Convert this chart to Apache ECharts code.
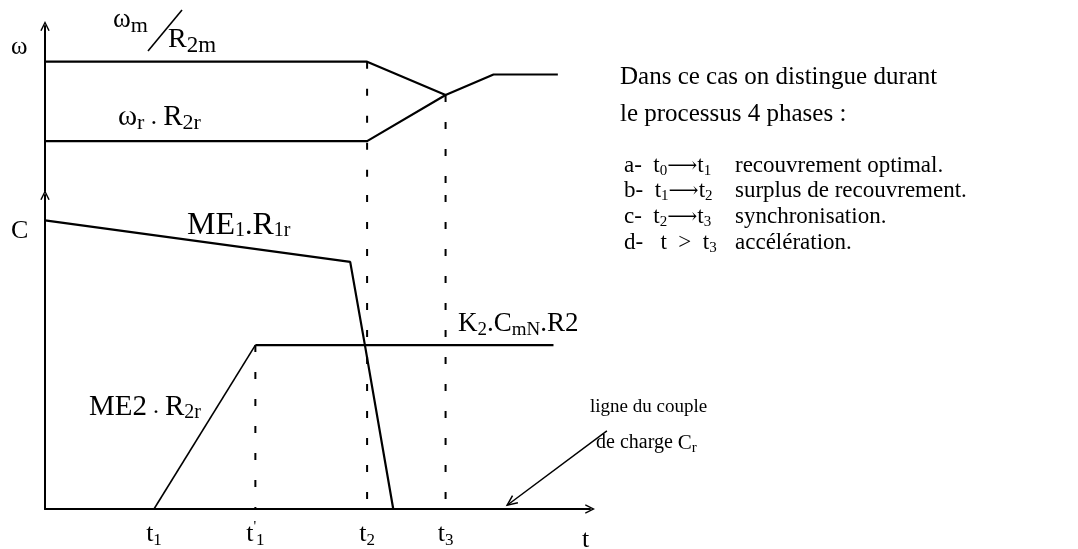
<!DOCTYPE html>
<html>
<head>
<meta charset="utf-8">
<script src="https://cdn.jsdelivr.net/npm/echarts@6/dist/echarts.min.js"></script>
<style>
  html, body { margin: 0; padding: 0; background: #fff; }
  #chart { width: 1078px; height: 549px; }
</style>
</head>
<body>
<div id="chart"></div>
<script>
// Instants marked on the time axis
const tMarks = [2.0, 3.86, 5.91, 7.35];
const tMarkLabels = ['{t|t}{s|1}', "{t|t}{sp|'}{s1|1}", '{t|t}{s|2}', '{t|t}{s|3}'];

// Upper panel: speeds
const omegaM = [[0, 7.84], [5.91, 7.84], [7.35, 5.82], [8.23, 7.06], [9.41, 7.06]];
const omegaR = [[0, 3.02], [5.91, 3.02], [7.35, 5.82]];
const upperDrops = [[[5.91, 7.84], [5.91, 0]], [[7.35, 5.82], [7.35, 0]]];

// Lower panel: torques
const me1 = [[0, 9.19], [5.60, 7.87], [5.87, 5.22], [6.39, 0]];
const me2 = [[2.0, 0], [3.86, 5.22]];
const k2 = [[3.86, 5.22], [9.33, 5.22]];
const lowerDrops = [[[3.86, 5.22], [3.86, 0]], [[5.91, 10], [5.91, 0]], [[7.35, 10], [7.35, 0]]];
// pointer from the note down to the load-torque line (tail, head)
const loadArrow = [[10.31, 2.49], [8.48, 0.12]];

const FONT = '"Liberation Serif", "DejaVu Serif", serif';
const INK = '#000';
const chevronUp = 'path://M0,10 L5,0 L10,10 L8.6,10.6 L5,3.2 L1.4,10.6 Z';

const sub = (size, pad) => ({ fontSize: size, fontFamily: FONT, color: INK, padding: [pad, 0, 0, 0] });
const sup = (size, pad) => ({ fontSize: size, fontFamily: FONT, color: INK, padding: [0, 0, pad, 0] });
const big = (size) => ({ fontSize: size, fontFamily: FONT, color: INK });

function solid(data, xi, width) {
  return {
    type: 'line', xAxisIndex: xi, yAxisIndex: xi, data: data,
    symbol: 'none', silent: true, clip: false,
    lineStyle: { color: INK, width: width }
  };
}
function dashed(data, xi) {
  return {
    type: 'line', xAxisIndex: xi, yAxisIndex: xi, data: data,
    symbol: 'none', silent: true, clip: false,
    lineStyle: { color: INK, width: 2, type: [7, 20] }
  };
}

// open-headed arrow drawn in the lower panel's coordinates
const loadPointer = {
  type: 'custom', xAxisIndex: 1, yAxisIndex: 1, clip: false, silent: true,
  data: [[loadArrow[0][0], loadArrow[0][1], loadArrow[1][0], loadArrow[1][1]]],
  encode: { x: [0, 2], y: [1, 3] },
  renderItem: function (params, api) {
    const a = api.coord([api.value(0), api.value(1)]);
    const b = api.coord([api.value(2), api.value(3)]);
    const ang = Math.atan2(b[1] - a[1], b[0] - a[0]);
    const len = 11, spread = 0.42;
    const h1 = [b[0] - len * Math.cos(ang - spread), b[1] - len * Math.sin(ang - spread)];
    const h2 = [b[0] - len * Math.cos(ang + spread), b[1] - len * Math.sin(ang + spread)];
    return {
      type: 'group',
      children: [
        { type: 'line', shape: { x1: a[0], y1: a[1], x2: b[0], y2: b[1] }, style: { stroke: INK, lineWidth: 1.5 } },
        { type: 'polyline', shape: { points: [h1, b, h2] }, style: { stroke: INK, lineWidth: 1.5, fill: null } }
      ]
    };
  }
};

const series = [
  solid(omegaM, 0, 2.2),
  solid(omegaR, 0, 2.2),
  ...upperDrops.map(d => dashed(d, 0)),
  solid(me1, 1, 2.2),
  solid(me2, 1, 1.6),
  solid(k2, 1, 2.2),
  ...lowerDrops.map(d => dashed(d, 1)),
  loadPointer
];

function text(x, y, str, rich, opts) {
  return {
    type: 'text', x: x, y: y, silent: true,
    style: Object.assign({
      text: str, rich: rich || {}, fontFamily: FONT, fontSize: 22, fill: INK,
      align: 'left', verticalAlign: 'middle'
    }, opts || {})
  };
}

const listRich = { t: big(23), s: sub(15, 10), a: big(21) };

const graphic = [
  text(11, 47, 'ω', {}, { fontSize: 25 }),
  text(113, 20, '{w|ω}{s|m}', { w: big(27), s: sub(22, 12) }),
  { type: 'line', silent: true, shape: { x1: 148, y1: 51, x2: 182, y2: 10 }, style: { stroke: INK, lineWidth: 1.6 } },
  text(168, 40, '{R|R}{s|2m}', { R: big(28), s: sub(23, 12) }),
  text(118, 117, '{w|ω}{s|r}{d| . }{R|R}{s|2r}', { w: big(29), s: sub(22, 13), d: big(25), R: big(29) }),
  text(11, 231, 'C', {}, { fontSize: 26 }),
  text(187, 226, '{M|ME}{s|1}{d|.}{M|R}{s|1r}', { M: big(32), s: sub(20, 10), d: big(30) }),
  text(458, 324, '{M|K}{s|2}{d|.}{M|C}{s|mN}{d|.}{M|R2}', { M: big(27), s: sub(19, 12), d: big(27) }),
  text(89, 407, '{M|ME2}{d| . }{M|R}{s|2r}', { M: big(29), s: sub(20, 12), d: big(24) }),
  text(590, 407, 'ligne du couple', {}, { fontSize: 19 }),
  text(596, 443, 'de charge {M|C}{s|r}', { M: big(21), s: sub(15, 10) }, { fontSize: 20 }),
  text(582, 540, 't', {}, { fontSize: 26 }),
  text(620, 77, 'Dans ce cas on distingue durant', {}, { fontSize: 25 }),
  text(620, 114, 'le processus 4 phases :', {}, { fontSize: 25 }),
  text(624, 166, 'a-  {t|t}{s|0}{a|⟶}{t|t}{s|1}', listRich, { fontSize: 23 }),
  text(624, 191, 'b-  {t|t}{s|1}{a|⟶}{t|t}{s|2}', listRich, { fontSize: 23 }),
  text(624, 217, 'c-  {t|t}{s|2}{a|⟶}{t|t}{s|3}', listRich, { fontSize: 23 }),
  text(624, 243, 'd-   t  >  {t|t}{s|3}', listRich, { fontSize: 23 }),
  text(735, 166, 'recouvrement optimal.', {}, { fontSize: 23 }),
  text(735, 191, 'surplus de recouvrement.', {}, { fontSize: 23 }),
  text(735, 217, 'synchronisation.', {}, { fontSize: 23 }),
  text(735, 243, 'accélération.', {}, { fontSize: 23 })
];

const chart = echarts.init(document.getElementById('chart'), null, { renderer: 'canvas' });
chart.setOption({
  backgroundColor: '#fff',
  animation: false,
  grid: [
    { left: 45, right: 488, top: 26, height: 165 },
    { left: 45, right: 488, top: 195, bottom: 37 }
  ],
  xAxis: [
    { gridIndex: 0, type: 'value', min: 0, max: 10, show: false },
    {
      gridIndex: 1, type: 'value', min: 0, max: 10,
      axisLine: { show: true, onZero: false, symbol: ['none', chevronUp], symbolSize: [11, 10], lineStyle: { color: INK, width: 2 } },
      axisTick: { show: false },
      splitLine: { show: false },
      axisLabel: {
        show: true, margin: 10, customValues: tMarks,
        formatter: v => tMarkLabels[tMarks.indexOf(v)] || '',
        rich: { t: big(26), s: sub(17, 13), s1: sub(17, 13), sp: sup(15, 14) }
      }
    }
  ],
  yAxis: [
    {
      gridIndex: 0, type: 'value', min: 0, max: 10,
      axisLine: { show: true, onZero: false, symbol: ['none', chevronUp], symbolSize: [10, 10], lineStyle: { color: INK, width: 2 } },
      axisTick: { show: false }, axisLabel: { show: false }, splitLine: { show: false }
    },
    {
      gridIndex: 1, type: 'value', min: 0, max: 10,
      axisLine: { show: true, onZero: false, symbol: ['none', chevronUp], symbolSize: [10, 10], lineStyle: { color: INK, width: 2 } },
      axisTick: { show: false }, axisLabel: { show: false }, splitLine: { show: false }
    }
  ],
  series: series,
  graphic: graphic
});
</script>
</body>
</html>
